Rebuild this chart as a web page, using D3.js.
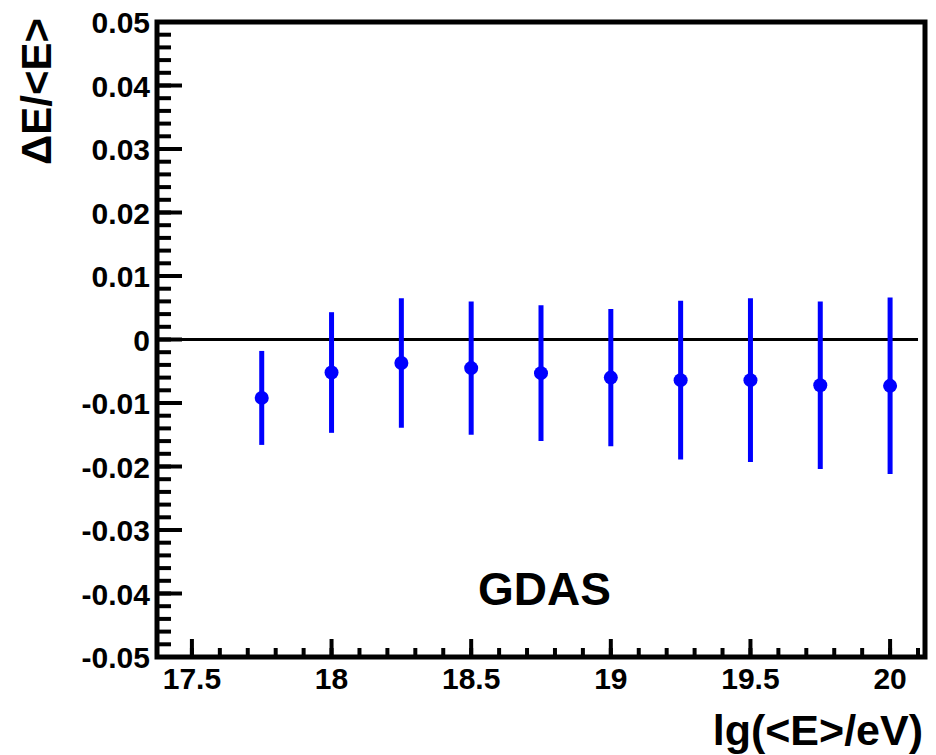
<!DOCTYPE html>
<html>
  <head>
    <meta charset="utf-8">
    <title>dE/E vs energy</title>
    <script type="text/javascript" src="https://cdn.jsdelivr.net/npm/d3@7"></script>
    <style type="text/css">
      body { margin: 0; background: #fff; }
      text { font-family: "Liberation Sans", Arial, sans-serif; font-weight: bold; fill: #000; }
      .frame { fill: none; stroke: #000; stroke-width: 5; }
      .tick-major, .tick-minor { stroke: #000; stroke-width: 4; }
      .err { stroke: #00f; stroke-width: 5; }
      .pt { fill: #00f; }
    </style>
  </head>
  <body>
    <svg id="screen" width="936" height="755" viewBox="0 0 936 755"></svg>

    <script type="text/javascript">

    // energy bins (lg E/eV) and mean deviation with its error
    var lgE    = [17.75, 18, 18.25, 18.5, 18.75, 19, 19.25, 19.5, 19.75, 20];
    var deltaE = [-0.0092, -0.0052, -0.0037, -0.0045, -0.0053, -0.0060, -0.0064, -0.0064, -0.0072, -0.0073];
    var errE   = [0.0074, 0.0095, 0.0102, 0.0105, 0.0107, 0.0108, 0.0125, 0.0129, 0.0132, 0.0139];

    var xTicks = [17.5, 18, 18.5, 19, 19.5, 20];
    var yTicks = [-0.05, -0.04, -0.03, -0.02, -0.01, 0, 0.01, 0.02, 0.03, 0.04, 0.05];
    var xDomain = [17.375, 20.125];
    var yDomain = [-0.05, 0.05];
    var zeroLine = [17.375, 20.1];

    var svg = d3.select('#screen');
    svg.append('rect').attr('width', 936).attr('height', 755).attr('fill', '#fff');

    var x = d3.scaleLinear().domain(xDomain).range([157, 925]),
        y = d3.scaleLinear().domain(yDomain).range([657, 22]);

    // minor ticks
    var xMinor = d3.range(175, 202).map(function(d) { return d / 10; })
                   .filter(function(d) { return d > xDomain[0] && d < xDomain[1]; });
    var yMinor = d3.range(-25, 26).map(function(d) { return d / 500; });

    svg.selectAll('.xminor').data(xMinor).enter().append('line')
       .attr('class', 'tick-minor')
       .attr('x1', function(d) { return x(d); }).attr('x2', function(d) { return x(d); })
       .attr('y1', y.range()[0]).attr('y2', y.range()[0] - 9);

    svg.selectAll('.xmajor').data(xTicks).enter().append('line')
       .attr('class', 'tick-major')
       .attr('x1', function(d) { return x(d); }).attr('x2', function(d) { return x(d); })
       .attr('y1', y.range()[0]).attr('y2', y.range()[0] - 18);

    svg.selectAll('.yminor').data(yMinor).enter().append('line')
       .attr('class', 'tick-minor')
       .attr('x1', x.range()[0]).attr('x2', x.range()[0] + 14)
       .attr('y1', function(d) { return y(d); }).attr('y2', function(d) { return y(d); });

    svg.selectAll('.ymajor').data(yTicks).enter().append('line')
       .attr('class', 'tick-major')
       .attr('x1', x.range()[0]).attr('x2', x.range()[0] + 25)
       .attr('y1', function(d) { return y(d); }).attr('y2', function(d) { return y(d); });

    // tick labels
    svg.selectAll('.xlab').data(xTicks).enter().append('text')
       .attr('x', function(d) { return x(d); })
       .attr('y', 689)
       .attr('text-anchor', 'middle')
       .style('font-size', '30px')
       .text(function(d) { return d; });

    svg.selectAll('.ylab').data(yTicks).enter().append('text')
       .attr('x', 150)
       .attr('y', function(d) { return y(d) + 11; })
       .attr('text-anchor', 'end')
       .style('font-size', '30px')
       .text(function(d) { return d === 0 ? '0' : d.toFixed(2); });

    // frame
    svg.append('rect').attr('class', 'frame')
       .attr('x', x.range()[0]).attr('y', y.range()[1])
       .attr('width', x.range()[1] - x.range()[0])
       .attr('height', y.range()[0] - y.range()[1]);

    // zero reference line
    svg.append('line')
       .attr('x1', x(zeroLine[0])).attr('x2', x(zeroLine[1]))
       .attr('y1', y(0)).attr('y2', y(0))
       .attr('stroke', '#000').attr('stroke-width', 3);

    // data points with errors
    var pts = lgE.map(function(d, i) { return { x: d, v: deltaE[i], e: errE[i] }; });

    svg.selectAll('.err').data(pts).enter().append('line')
       .attr('class', 'err')
       .attr('x1', function(d) { return x(d.x); }).attr('x2', function(d) { return x(d.x); })
       .attr('y1', function(d) { return y(d.v + d.e); })
       .attr('y2', function(d) { return y(d.v - d.e); });

    svg.selectAll('.pt').data(pts).enter().append('circle')
       .attr('class', 'pt')
       .attr('cx', function(d) { return x(d.x); })
       .attr('cy', function(d) { return y(d.v); })
       .attr('r', 7);

    // titles
    svg.append('text')
       .attr('x', 923).attr('y', 745)
       .attr('text-anchor', 'end')
       .style('font-size', '43px')
       .text('lg(<E>/eV)');

    svg.append('text')
       .attr('transform', 'translate(51,18) rotate(-90)')
       .attr('text-anchor', 'end')
       .style('font-size', '42px')
       .text('\u0394E/<E>');

    svg.append('text')
       .attr('x', 478).attr('y', 605)
       .style('font-size', '46px')
       .text('GDAS');

    </script>
  </body>
</html>
